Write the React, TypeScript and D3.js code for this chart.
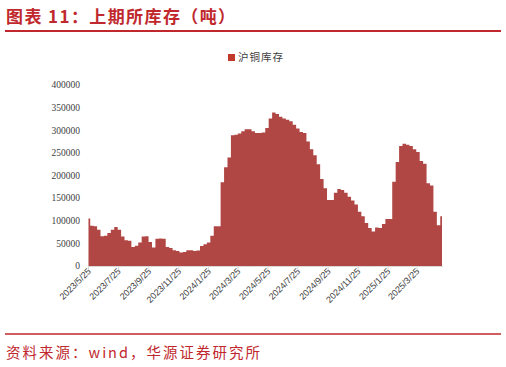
import { useEffect, useRef } from 'react';
import * as d3 from 'd3';

// weekly dates (Fridays)
const dates = [
  '2023-05-26', '2023-06-02', '2023-06-09', '2023-06-16', '2023-06-23', '2023-06-30', '2023-07-07', '2023-07-14',
  '2023-07-21', '2023-07-28', '2023-08-04', '2023-08-11', '2023-08-18', '2023-08-25', '2023-09-01', '2023-09-08',
  '2023-09-15', '2023-09-22', '2023-09-29', '2023-10-06', '2023-10-13', '2023-10-20', '2023-10-27', '2023-11-03',
  '2023-11-10', '2023-11-17', '2023-11-24', '2023-12-01', '2023-12-08', '2023-12-15', '2023-12-22', '2023-12-29',
  '2024-01-05', '2024-01-12', '2024-01-19', '2024-01-26', '2024-02-02', '2024-02-09', '2024-02-16', '2024-02-23',
  '2024-03-01', '2024-03-08', '2024-03-15', '2024-03-22', '2024-03-29', '2024-04-05', '2024-04-12', '2024-04-19',
  '2024-04-26', '2024-05-03', '2024-05-10', '2024-05-17', '2024-05-24', '2024-05-31', '2024-06-07', '2024-06-14',
  '2024-06-21', '2024-06-28', '2024-07-05', '2024-07-12', '2024-07-19', '2024-07-26', '2024-08-02', '2024-08-09',
  '2024-08-16', '2024-08-23', '2024-08-30', '2024-09-06', '2024-09-13', '2024-09-20', '2024-09-27', '2024-10-04',
  '2024-10-11', '2024-10-18', '2024-10-25', '2024-11-01', '2024-11-08', '2024-11-15', '2024-11-22', '2024-11-29',
  '2024-12-06', '2024-12-13', '2024-12-20', '2024-12-27', '2025-01-03', '2025-01-10', '2025-01-17', '2025-01-24',
  '2025-01-31', '2025-02-07', '2025-02-14', '2025-02-21', '2025-02-28', '2025-03-07', '2025-03-14', '2025-03-21',
  '2025-03-28', '2025-04-04', '2025-04-11', '2025-04-18', '2025-04-25', '2025-05-02', '2025-05-09', '2025-05-16',
];

// 沪铜库存 (吨)
const copperStock = [
  105000, 89000, 88000, 80000, 66000, 67000, 73000, 80000,
  86000, 80000, 65000, 57000, 56000, 42000, 45000, 52000,
  65000, 66000, 53000, 41000, 60000, 61000, 60000, 42000,
  40000, 35000, 33000, 30000, 31000, 35000, 35000, 33000,
  34000, 44000, 48000, 52000, 67000, 88000, 88000, 185000,
  218000, 240000, 289000, 290000, 293000, 298000, 302000, 302000,
  298000, 294000, 294000, 295000, 305000, 326000, 339000, 336000,
  330000, 326000, 323000, 320000, 312000, 304000, 296000, 294000,
  275000, 258000, 245000, 225000, 192000, 172000, 146000, 146000,
  162000, 170000, 168000, 162000, 153000, 145000, 136000, 120000,
  110000, 95000, 84000, 76000, 85000, 84000, 93000, 104000,
  104000, 186000, 230000, 265000, 270000, 268000, 265000, 258000,
  252000, 232000, 226000, 183000, 178000, 120000, 90000, 110000,
];

const xTickLabels = [
  '2023/5/25', '2023/7/25', '2023/9/25', '2023/11/25', '2024/1/25', '2024/3/25',
  '2024/5/25', '2024/7/25', '2024/9/25', '2024/11/25', '2025/1/25', '2025/3/25',
];

const yTicks = [0, 50000, 100000, 150000, 200000, 250000, 300000, 350000, 400000];

const title = '图表 11：上期所库存（吨）';
const seriesName = '沪铜库存';
const source = '资料来源：wind，华源证券研究所';

export default function App() {
  const ref = useRef(null);

  useEffect(() => {
    const el = ref.current;
    if (!el) return;
    d3.select(el).selectAll('*').remove();

    const W = 506, H = 367;
    const red = '#c0282d';
    const fill = '#b14744';
    const parse = d3.timeParse('%Y-%m-%d');
    const parseTick = d3.timeParse('%Y/%m/%d');

    const svg = d3.select(el)
      .attr('width', W)
      .attr('height', H)
      .attr('viewBox', `0 0 ${W} ${H}`);

    svg.append('rect').attr('width', W).attr('height', H).attr('fill', '#fff');

    // title
    svg.append('text')
      .attr('x', 6)
      .attr('y', 23)
      .attr('fill', red)
      .attr('font-family', '"Noto Sans CJK SC", sans-serif')
      .attr('font-size', 17)
      .attr('font-weight', 'bold')
      .attr('letter-spacing', 1.4)
      .text(title);

    svg.append('line')
      .attr('x1', 5).attr('x2', 501)
      .attr('y1', 31).attr('y2', 31)
      .attr('stroke', red)
      .attr('stroke-width', 2);

    // plot area
    const left = 88, right = 442, top = 85, bottom = 266;
    const data = dates.map((d, i) => ({ date: parse(d), value: copperStock[i] }));

    const x = d3.scaleTime()
      .domain([parseTick('2023/5/25'), parse(dates[dates.length - 1])])
      .range([left, right]);

    const y = d3.scaleLinear()
      .domain([0, 400000])
      .range([bottom, top]);

    const area = d3.area()
      .x(d => x(d.date))
      .y0(y(0))
      .y1(d => y(d.value))
      .curve(d3.curveStep);

    svg.append('path')
      .datum(data)
      .attr('fill', fill)
      .attr('d', area);

    // y axis labels
    svg.append('g')
      .selectAll('text')
      .data(yTicks)
      .enter().append('text')
      .attr('x', 80)
      .attr('y', d => y(d))
      .attr('dy', '0.35em')
      .attr('text-anchor', 'end')
      .attr('font-family', '"Liberation Serif", serif')
      .attr('font-size', 9.5)
      .attr('fill', '#404040')
      .text(d => d);

    // x axis
    const xAxis = svg.append('g')
      .attr('transform', `translate(0,${bottom})`)
      .call(d3.axisBottom(x)
        .tickValues(xTickLabels.map(t => parseTick(t)))
        .tickSize(4)
        .tickFormat((d, i) => xTickLabels[i]));

    xAxis.select('.domain')
      .attr('d', `M${left},0.5H${right + 1}`)
      .attr('stroke', '#d9d9d9')
      .attr('stroke-width', 1);
    xAxis.selectAll('.tick line').attr('stroke', '#d9d9d9');
    xAxis.selectAll('.tick text')
      .attr('font-family', '"Liberation Sans", Arial, sans-serif')
      .attr('font-size', 9)
      .attr('fill', '#404040')
      .attr('text-anchor', 'end')
      .attr('dy', 0)
      .attr('y', 0)
      .attr('transform', 'translate(3,6) rotate(-45)');

    // legend
    const lg = svg.append('g').attr('transform', 'translate(228,54)');
    lg.append('rect')
      .attr('width', 7)
      .attr('height', 7)
      .attr('fill', '#c0392b');
    lg.append('text')
      .attr('x', 10)
      .attr('y', 3.5)
      .attr('dy', '0.35em')
      .attr('font-family', '"Noto Sans CJK SC", sans-serif')
      .attr('font-size', 10.5)
      .attr('letter-spacing', 1)
      .attr('fill', '#404040')
      .text(seriesName);

    // footer
    svg.append('line')
      .attr('x1', 5).attr('x2', 501)
      .attr('y1', 334).attr('y2', 334)
      .attr('stroke', red)
      .attr('stroke-width', 1.5);

    svg.append('text')
      .attr('x', 6)
      .attr('y', 358)
      .attr('fill', red)
      .attr('font-family', '"Noto Sans CJK SC", sans-serif')
      .attr('font-size', 14.5)
      .attr('letter-spacing', 2)
      .text(source);
  }, []);

  return <svg ref={ref} style={{ position: 'absolute', left: 0, top: 0, display: 'block' }} />;
}
